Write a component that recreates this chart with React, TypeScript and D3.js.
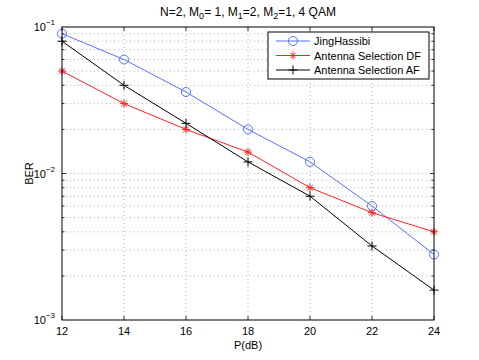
import React, { useEffect, useRef } from 'react';
import * as d3 from 'd3';

const powers = [12, 14, 16, 18, 20, 22, 24];
const jingHassibi = [0.09, 0.06, 0.036, 0.02, 0.012, 0.006, 0.0028];
const selectionDF = [0.05, 0.03, 0.02, 0.014, 0.008, 0.0054, 0.004];
const selectionAF = [0.08, 0.04, 0.022, 0.012, 0.007, 0.0032, 0.0016];
const seriesNames = ['JingHassibi', 'Antenna Selection DF', 'Antenna Selection AF'];
const yTickExps = [-1, -2, -3];

const App = () => {
  const ref = useRef<SVGSVGElement>(null);

  useEffect(() => {
    const svg = d3.select(ref.current);
    svg.selectAll('*').remove();

    const margin = { top: 27, right: 45, bottom: 40, left: 62 };
    const width = 479 - margin.left - margin.right;
    const height = 360 - margin.top - margin.bottom;
    const font = 'Liberation Sans, Arial, sans-serif';

    const g = svg.append('g').attr('transform', `translate(${margin.left},${margin.top})`);

    const x = d3.scaleLinear().domain([12, 24]).range([0, width]);
    const y = d3.scaleLog().domain([0.001, 0.1]).range([height, 0]);

    // grid: x ticks and log minor ticks
    const minors: number[] = [];
    [0.001, 0.01].forEach((d) => {
      for (let k = 2; k <= 9; k++) minors.push(d * k);
    });
    minors.push(0.01);
    const grid = g.append('g').attr('stroke', '#b4b4b4').attr('stroke-dasharray', '1,3').attr('stroke-width', 1);
    powers.slice(1, -1).forEach((p) => {
      grid.append('line').attr('x1', x(p)).attr('x2', x(p)).attr('y1', 0).attr('y2', height);
    });
    minors.forEach((v) => {
      grid.append('line').attr('x1', 0).attr('x2', width).attr('y1', y(v)).attr('y2', y(v));
    });

    // tick marks inside
    const ticks = g.append('g').attr('stroke', '#000').attr('stroke-width', 0.8);
    powers.forEach((p) => {
      ticks.append('line').attr('x1', x(p)).attr('x2', x(p)).attr('y1', height).attr('y2', height - 4);
      ticks.append('line').attr('x1', x(p)).attr('x2', x(p)).attr('y1', 0).attr('y2', 4);
    });
    minors.forEach((v) => {
      const len = v === 0.01 ? 4 : 2.5;
      ticks.append('line').attr('x1', 0).attr('x2', len).attr('y1', y(v)).attr('y2', y(v));
      ticks.append('line').attr('x1', width).attr('x2', width - len).attr('y1', y(v)).attr('y2', y(v));
    });

    // x tick labels
    g.append('g')
      .selectAll('text')
      .data(powers)
      .join('text')
      .attr('x', (d) => x(d))
      .attr('y', height + 15)
      .attr('text-anchor', 'middle')
      .attr('font-family', font)
      .attr('font-size', 11)
      .text((d) => d);

    // y tick labels 10^n
    yTickExps.forEach((e) => {
      const t = g
        .append('text')
        .attr('x', -7)
        .attr('y', y(Math.pow(10, e)) + 4)
        .attr('text-anchor', 'end')
        .attr('font-family', font)
        .attr('font-size', 11);
      t.append('tspan').text('10');
      t.append('tspan').attr('dy', -6).attr('font-size', 8).text(`\u2212${-e}`);
    });

    const line = d3
      .line<number>()
      .x((_, i) => x(powers[i]))
      .y((d) => y(d));

    const series = [
      { values: jingHassibi, color: '#5470ff', marker: 'circle' },
      { values: selectionDF, color: '#ff2020', marker: 'star' },
      { values: selectionAF, color: '#000', marker: 'plus' },
    ];

    const drawMarker = (sel: any, cx: number, cy: number, kind: string, color: string) => {
      if (kind === 'circle') {
        sel.append('circle').attr('cx', cx).attr('cy', cy).attr('r', 4.5).attr('fill', 'none').attr('stroke', color).attr('stroke-width', 1);
      } else if (kind === 'star') {
        const r = 4;
        [[-r, 0, r, 0], [0, -r, 0, r], [-r * 0.7, -r * 0.7, r * 0.7, r * 0.7], [-r * 0.7, r * 0.7, r * 0.7, -r * 0.7]].forEach((s) => {
          sel.append('line').attr('x1', cx + s[0]).attr('y1', cy + s[1]).attr('x2', cx + s[2]).attr('y2', cy + s[3]).attr('stroke', color).attr('stroke-width', 1);
        });
      } else {
        const r = 4.5;
        sel.append('line').attr('x1', cx - r).attr('y1', cy).attr('x2', cx + r).attr('y2', cy).attr('stroke', color).attr('stroke-width', 1);
        sel.append('line').attr('x1', cx).attr('y1', cy - r).attr('x2', cx).attr('y2', cy + r).attr('stroke', color).attr('stroke-width', 1);
      }
    };

    series.forEach((s) => {
      g.append('path').datum(s.values).attr('fill', 'none').attr('stroke', s.color).attr('stroke-width', 1).attr('d', line);
      const mg = g.append('g');
      s.values.forEach((v, i) => drawMarker(mg, x(powers[i]), y(v), s.marker, s.color));
    });

    // axes box
    g.append('rect').attr('width', width).attr('height', height).attr('fill', 'none').attr('stroke', '#000').attr('stroke-width', 1);

    // legend
    const lg = g.append('g').attr('transform', `translate(${width - 166},5)`);
    lg.append('rect').attr('width', 161).attr('height', 47).attr('fill', '#fff').attr('stroke', '#000').attr('stroke-width', 1);
    series.forEach((s, i) => {
      const ly = 9 + i * 14.5;
      lg.append('line').attr('x1', 8).attr('x2', 42).attr('y1', ly).attr('y2', ly).attr('stroke', s.color).attr('stroke-width', 1);
      drawMarker(lg, 25, ly, s.marker, s.color);
      lg.append('text')
        .attr('x', 46)
        .attr('y', ly + 4)
        .attr('font-family', font)
        .attr('font-size', 11)
        .text(seriesNames[i]);
    });

    // axis titles
    g.append('text')
      .attr('x', width / 2)
      .attr('y', height + 29)
      .attr('text-anchor', 'middle')
      .attr('font-family', font)
      .attr('font-size', 11)
      .text('P(dB)');
    g.append('text')
      .attr('transform', `translate(-29,${height / 2}) rotate(-90)`)
      .attr('text-anchor', 'middle')
      .attr('font-family', font)
      .attr('font-size', 11)
      .text('BER');

    // title with subscripts
    const title = svg
      .append('text')
      .attr('x', 248)
      .attr('y', 16)
      .attr('text-anchor', 'middle')
      .attr('font-family', font)
      .attr('font-size', 12);
    const parts: [string, string][] = [['N=2, M', '0'], ['= 1, M', '1'], ['=2, M', '2'], ['=1, 4 QAM', '']];
    let shifted = false;
    parts.forEach(([main, sub]) => {
      title.append('tspan').attr('dy', shifted ? -3 : 0).text(main);
      shifted = false;
      if (sub) {
        title.append('tspan').attr('font-size', 9).attr('dy', 3).text(sub);
        shifted = true;
      }
    });
  }, []);

  return (
    <svg ref={ref} width={479} height={360} style={{ position: 'absolute', left: 0, top: 0, background: '#fff' }} />
  );
};

export default App;
